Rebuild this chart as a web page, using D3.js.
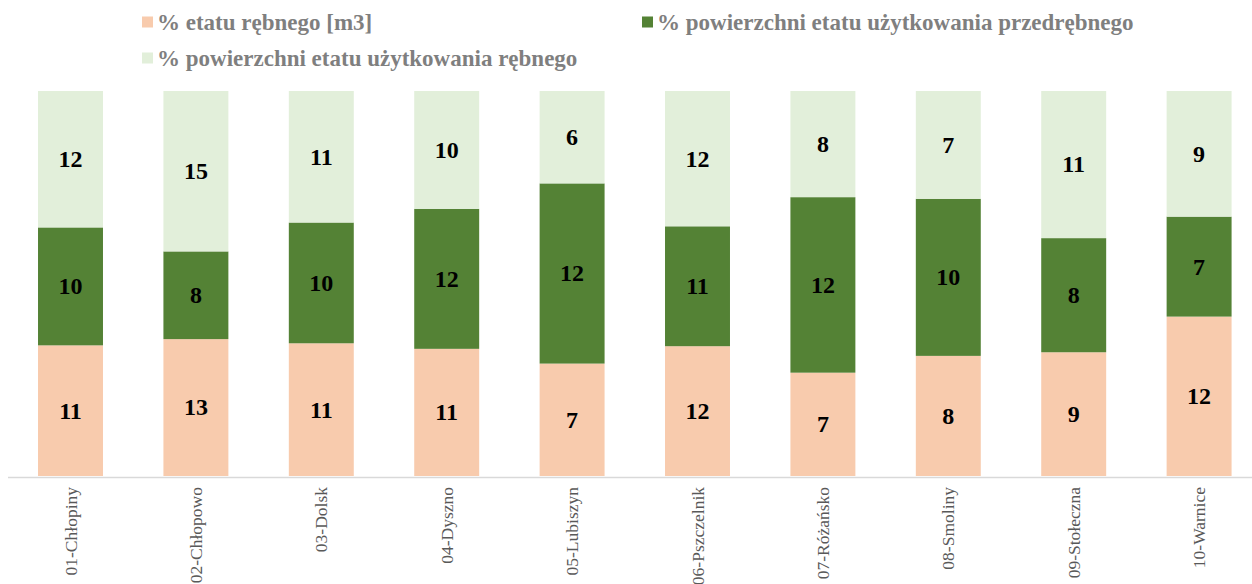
<!DOCTYPE html>
<html>
<head>
<meta charset="utf-8">
<script src="https://cdn.jsdelivr.net/npm/d3@7"></script>
<style>
  body { margin: 0; background: #fff; }
  svg { display: block; }
</style>
</head>
<body>
<script>
var w = 1252;
var h = 584;
var serifFont = "'Liberation Serif', 'Times New Roman', Times, serif";

// categories (leśnictwa)
var categories = ["01-Chłopiny", "02-Chłopowo", "03-Dolsk", "04-Dyszno", "05-Lubiszyn",
                  "06-Pszczelnik", "07-Różańsko", "08-Smoliny", "09-Stołeczna", "10-Warnice"];
// series values (labels show them rounded)
var etatRebny = [11.3, 12.8, 11.1, 10.9, 7.3, 11.8, 7.3, 7.8, 9.0, 11.8];
var powPrzedrebny = [10.2, 8.2, 10.1, 12.0, 11.7, 10.9, 12.4, 10.2, 8.3, 7.4];
var powRebny = [11.8, 15.0, 11.0, 10.1, 6.0, 12.3, 7.5, 7.0, 10.7, 9.3];

var seriesNames = ["% etatu rębnego [m3]",
                   "% powierzchni etatu użytkowania przedrębnego",
                   "% powierzchni etatu użytkowania rębnego"];
var seriesColors = ["#F8CBAD", "#548235", "#E2EFDA"];

var table = categories.map(function(c, i){
    return { cat: c, s0: etatRebny[i], s1: powPrzedrebny[i], s2: powRebny[i] };
});

// 100% stacked
var stack = d3.stack()
    .keys(["s0", "s1", "s2"])
    .offset(d3.stackOffsetExpand);
var series = stack(table);

var svg = d3.select("body").append("svg")
    .attr("width", w)
    .attr("height", h);

var x = d3.scaleBand()
    .domain(categories)
    .range([7.8, 1261.8])
    .paddingInner(0.482)
    .paddingOuter(0.241);

var y = d3.scaleLinear()
    .domain([0, 1])
    .range([476, 91]);

// bars
var groups = svg.selectAll("g.series")
    .data(series)
    .enter()
    .append("g")
    .attr("class", "series")
    .attr("fill", function(d, i){ return seriesColors[i]; });

groups.selectAll("rect")
    .data(function(d){ return d; })
    .enter()
    .append("rect")
    .attr("x", function(d){ return x(d.data.cat); })
    .attr("y", function(d){ return y(d[1]); })
    .attr("width", x.bandwidth())
    .attr("height", function(d){ return y(d[0]) - y(d[1]); });

// value labels in the middle of each segment
groups.each(function(s){
    d3.select(this).selectAll("text")
        .data(s)
        .enter()
        .append("text")
        .attr("x", function(d){ return x(d.data.cat) + x.bandwidth() / 2; })
        .attr("y", function(d){ return (y(d[0]) + y(d[1])) / 2; })
        .attr("text-anchor", "middle")
        .attr("dy", "0.33em")
        .attr("fill", "#000")
        .style("font-family", serifFont)
        .style("font-weight", "bold")
        .style("font-size", "24px")
        .text(function(d){ return d3.format(".0f")(d.data[s.key]); });
});

// x axis
var xAxis = d3.axisBottom(x).tickSize(0).tickPadding(0);
var gx = svg.append("g")
    .attr("transform", "translate(0,477)")
    .call(xAxis);
gx.select(".domain")
    .attr("d", "M8,0.5H1252")
    .attr("stroke", "#d9d9d9")
    .attr("stroke-width", 1.5);
gx.selectAll(".tick text")
    .attr("transform", "rotate(-90)")
    .attr("text-anchor", "end")
    .attr("x", -10)
    .attr("y", 0)
    .attr("dy", "0.35em")
    .attr("fill", "#595959")
    .style("font-family", serifFont)
    .style("font-size", "17.5px");

// legend
var legendPos = [[142, 22], [642, 22], [142, 58]];
var legend = svg.selectAll("g.legend")
    .data(seriesNames)
    .enter()
    .append("g")
    .attr("class", "legend")
    .attr("transform", function(d, i){ return "translate(" + legendPos[i][0] + "," + legendPos[i][1] + ")"; });
legend.append("rect")
    .attr("x", 0)
    .attr("y", -5.5)
    .attr("width", 11)
    .attr("height", 11)
    .attr("fill", function(d, i){ return seriesColors[i]; });
legend.append("text")
    .attr("x", 15)
    .attr("y", 0)
    .attr("dy", "0.33em")
    .attr("fill", "#7f7f7f")
    .style("font-family", serifFont)
    .style("font-weight", "bold")
    .style("font-size", "23px")
    .text(function(d){ return d; });
</script>
</body>
</html>
